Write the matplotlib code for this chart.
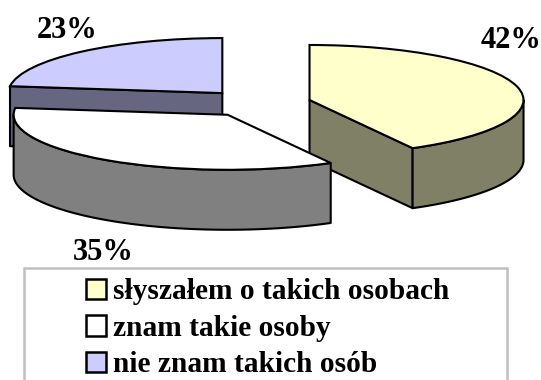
import numpy as np
import matplotlib
matplotlib.use('Agg')
import matplotlib.pyplot as plt
from matplotlib.patches import Rectangle

labels = ['słyszałem o takich osobach', 'znam takie osoby', 'nie znam takich osób']
values = [42, 35, 23]
pct_labels = ['42%', '35%', '23%']
colors = ['#FFFFCC', '#FFFFFF', '#CCCCFF']
wall_colors = ['#808066', '#808080', '#666680']

W, H = 541, 380
plt.rcParams['font.family'] = ['Liberation Serif', 'DejaVu Serif']

fig = plt.figure(figsize=(W / 100, H / 100), dpi=100)
ax = fig.add_axes([0, 0, 1, 1])

# pie is squashed by the axes scale: 1 unit is 214 px across and 55 px down
wedges, _ = ax.pie(values, startangle=90, counterclock=False, explode=[0.25] * 3,
                   colors=colors, wedgeprops=dict(edgecolor='black', linewidth=1.5))
ax.set_aspect('auto')
ax.set_xlim(-257.7 / 214, (W - 257.7) / 214)
ax.set_ylim(-(H - 103.4) / 55, 103.4 / 55)
ax.axis('off')
depth = 60 / 55

# back to front: blue, yellow, white
draw_order = [2, 0, 1]
for z, i in enumerate(draw_order):
    w = wedges[i]
    cx, cy = w.center
    t1, t2 = w.theta1, w.theta2
    style = dict(facecolor=wall_colors[i], edgecolor='black', linewidth=1.5,
                 joinstyle='round', zorder=2 * z + 1)
    # radial sides that face the viewer
    for t, show in ((t1, np.cos(np.radians(t1)) > 1e-6), (t2, np.cos(np.radians(t2)) < -1e-6)):
        if show:
            px = cx + np.cos(np.radians(t))
            py = cy + np.sin(np.radians(t))
            ax.fill([cx, px, px, cx], [cy, py, py - depth, cy - depth], **style)
    # outer rim, front half only
    a1, a2 = max(t1, -180), min(t2, 0)
    if a1 < a2:
        a = np.radians(np.linspace(a1, a2, 80))
        xs = cx + np.cos(a)
        ys = cy + np.sin(a)
        ax.fill(np.r_[xs, xs[::-1]], np.r_[ys, ys[::-1] - depth], **style)
    w.set_zorder(2 * z + 2)

# percent labels, placed in pixels
pct_pos = [(511, 40), (103, 252), (67, 30)]
for txt, (x, y) in zip(pct_labels, pct_pos):
    ax.text(x / W, 1 - y / H, txt, transform=fig.transFigure, ha='center', va='center',
            fontsize=22, fontweight='bold', zorder=20)

# legend frame runs off the bottom of the picture
fig.add_artist(Rectangle((24 / W, -10 / H), 483 / W, (H + 10 - 268) / H, transform=fig.transFigure,
                         facecolor='white', edgecolor='#C0C0C0', linewidth=1.8, zorder=0))
leg = fig.legend(wedges, labels, loc='upper left', bbox_to_anchor=(86 / W, 1 - 278 / H),
                 frameon=False, prop=dict(size=21.2, weight='bold'), handlelength=0.68,
                 handleheight=0.68, handletextpad=0.24, labelspacing=0.33, borderpad=0, borderaxespad=0)
leg.set_zorder(30)
for h in leg.legend_handles:
    h.set_linewidth(1.8)

fig.savefig('out.png', dpi=100)
